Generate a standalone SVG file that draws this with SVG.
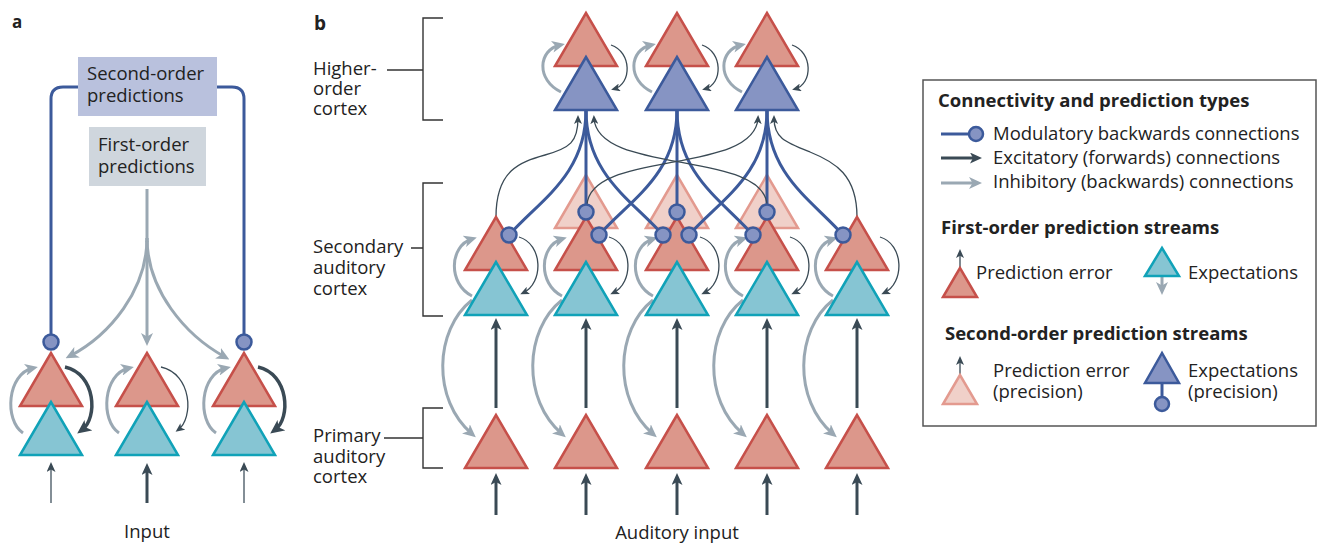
<svg xmlns="http://www.w3.org/2000/svg" xmlns:xlink="http://www.w3.org/1999/xlink" width="1319" height="545" viewBox="0 0 1319 545">
<defs>
<style>
.red{fill:#dc978b;stroke:#c6504a;stroke-width:2.5}
.cyan{fill:#86c5d3;stroke:#10a2b8;stroke-width:2.5}
.blue{fill:#8694c3;stroke:#3c5a9b;stroke-width:2.5}
.pink{fill:#f0d0c9;stroke:#e39a8f;stroke-width:2.5}
.mod{fill:none;stroke:#3c5a9b;stroke-width:3}
.dot{fill:#8694c3;stroke:#3c5a9b;stroke-width:2.5}
.inh{fill:none;stroke:#9aa8b3;stroke-width:3;marker-end:url(#ag)}
.exc{fill:none;stroke:#3a4a55;stroke-width:1.3;marker-end:url(#ad)}
.fwd{fill:none;stroke:#3a4a55;stroke-width:3;marker-end:url(#af)}
.thk{fill:none;stroke:#3a4a55;stroke-width:3.5;marker-end:url(#ak)}
.inp{fill:none;stroke:#5a6973;stroke-width:1.5;marker-end:url(#ai)}
.brk{fill:none;stroke:#333;stroke-width:1.4}
.t{font-family:"Open Sans","Liberation Sans",sans-serif;font-size:18.5px;fill:#222}
.b{font-weight:bold}
</style>
<polygon id="tri" points="0,0 -31,53 31,53"/>
<marker id="ag" markerUnits="userSpaceOnUse" viewBox="0 0 13 12" markerWidth="13" markerHeight="12" refX="8" refY="6" orient="auto"><path d="M0,0 L13,6 L0,12 L3.5,6 z" fill="#9aa8b3"/></marker>
<marker id="ad" markerUnits="userSpaceOnUse" viewBox="0 0 9 8" markerWidth="9" markerHeight="8" refX="6" refY="4" orient="auto"><path d="M0,0 L9,4 L0,8 L2.2,4 z" fill="#3a4a55"/></marker>
<marker id="af" markerUnits="userSpaceOnUse" viewBox="0 0 12 11" markerWidth="12" markerHeight="11" refX="7" refY="5.5" orient="auto"><path d="M0,0 L12,5.5 L0,11 L3,5.5 z" fill="#3a4a55"/></marker>
<marker id="ak" markerUnits="userSpaceOnUse" viewBox="0 0 14 13" markerWidth="14" markerHeight="13" refX="8" refY="6.5" orient="auto"><path d="M0,0 L14,6.5 L0,13 L3.5,6.5 z" fill="#3a4a55"/></marker>
<marker id="ai" markerUnits="userSpaceOnUse" viewBox="0 0 10 9" markerWidth="10" markerHeight="9" refX="6" refY="4.5" orient="auto"><path d="M0,0 L10,4.5 L0,9 L2.5,4.5 z" fill="#3a4a55"/></marker>
</defs>
<rect width="1319" height="545" fill="#fff"/>

<!-- panel labels -->
<text class="t b" x="12" y="28" style="font-size:17px">a</text>
<text class="t b" x="314" y="30" style="font-size:19px">b</text>

<!-- ============ PANEL A ============ -->
<g id="a-second-box">
<rect x="78" y="57" width="139" height="59" fill="#b9c1dd"/>
<text class="t" x="87" y="80">Second-order<tspan x="87" dy="22">predictions</tspan></text>
</g>
<g id="a-first-box">
<rect x="89" y="127" width="117" height="59" fill="#cfd6dd"/>
<text class="t" x="98" y="151">First-order<tspan x="98" dy="22">predictions</tspan></text>
</g>

<g id="a-connectors">
<path class="mod" d="M78,87 H63 Q51,87 51,99 V335"/>
<path class="mod" d="M217,87 H232 Q244,87 244,99 V335"/>
<path d="M147,189 V242" fill="none" stroke="#9aa8b3" stroke-width="3"/>
<path class="inh" d="M147,241 V341"/>
<path class="inh" d="M147,238 C147,290 110,335 70,356"/>
<path class="inh" d="M147,238 C147,290 185,335 225,357"/>
<path class="inh" d="M23,433 C4,420 7,374 33,368"/>
<path class="inh" d="M119,433 C100,420 103,374 129,368"/>
<path class="inh" d="M216,433 C197,420 200,374 226,368"/>
<path class="thk" d="M65,367 C96,374 98,418 82,430"/>
<path class="exc" d="M161,367 C192,374 194,418 178,430"/>
<path class="thk" d="M258,367 C289,374 291,418 275,430"/>
<path class="inp" d="M51,503 V466"/>
<path class="fwd" d="M147,503 V468"/>
<path class="inp" d="M244,503 V466"/>
</g>

<g id="a-col1">
<use xlink:href="#tri" x="51" y="353" class="red"/>
<use xlink:href="#tri" x="51" y="402" class="cyan"/>
</g>
<g id="a-col2">
<use xlink:href="#tri" x="147" y="353" class="red"/>
<use xlink:href="#tri" x="147" y="402" class="cyan"/>
</g>
<g id="a-col3">
<use xlink:href="#tri" x="244" y="353" class="red"/>
<use xlink:href="#tri" x="244" y="402" class="cyan"/>
</g>
<g id="a-dots">
<circle class="dot" cx="51" cy="342" r="7.5"/>
<circle class="dot" cx="244" cy="342" r="7.5"/>
</g>
<text class="t" x="147" y="538" text-anchor="middle">Input</text>

<!-- ============ PANEL B ============ -->
<g id="b-labels">
<path class="brk" d="M443,18 H423 V120 H443 M387,70 H423"/>
<path class="brk" d="M443,183 H423 V316 H443 M411,248 H423"/>
<path class="brk" d="M443,408 H423 V468 H443 M384,438 H423"/>
<text class="t" x="313" y="75">Higher-<tspan x="313" dy="20">order</tspan><tspan x="313" dy="20">cortex</tspan></text>
<text class="t" x="313" y="253">Secondary<tspan x="313" dy="21">auditory</tspan><tspan x="313" dy="21">cortex</tspan></text>
<text class="t" x="313" y="442">Primary<tspan x="313" dy="20.5">auditory</tspan><tspan x="313" dy="20.5">cortex</tspan></text>
<text class="t" x="677" y="539" text-anchor="middle">Auditory input</text>
</g>

<g id="sec-pe-prec-2"><use xlink:href="#tri" x="586" y="175" class="pink"/></g>
<g id="sec-pe-prec-3"><use xlink:href="#tri" x="677" y="175" class="pink"/></g>
<g id="sec-pe-prec-4"><use xlink:href="#tri" x="767" y="175" class="pink"/></g>

<g id="b-connectors">
<!-- modulatory -->
<path class="mod" d="M586,110 C586,175 540,200 509,235"/>
<path class="mod" d="M586,110 V212"/>
<path class="mod" d="M586,110 C586,175 632,200 663,235"/>
<path class="mod" d="M677,110 C677,175 630,200 599,235"/>
<path class="mod" d="M677,110 V212"/>
<path class="mod" d="M677,110 C677,175 722,200 753,235"/>
<path class="mod" d="M767,110 C767,175 720,200 689,235"/>
<path class="mod" d="M767,110 V212"/>
<path class="mod" d="M767,110 C767,175 812,200 843,235"/>
<!-- forward excitatory to higher -->
<path class="exc" d="M496,217 C496,170 520,162 545,155 C570,148 578,142 578,118"/>
<path class="exc" d="M587,205 C590,150 755,175 758,118"/>
<path class="exc" d="M767,205 C764,150 597,175 594,118"/>
<path class="exc" d="M857,217 C857,175 835,162 810,152 C785,142 774,138 774,118"/>
<!-- higher loops -->
<path class="inh" d="M561,92 C536,80 538,50 560,45"/>
<path class="inh" d="M652,92 C627,80 629,50 651,45"/>
<path class="inh" d="M742,92 C717,80 719,50 741,45"/>
<path class="exc" d="M611,45 C632,52 632,84 614,89"/>
<path class="exc" d="M702,45 C723,52 723,84 705,89"/>
<path class="exc" d="M792,45 C813,52 813,84 795,89"/>
<!-- secondary loops -->
<path class="inh" d="M472,296 C448,284 449,246 472,239"/>
<path class="inh" d="M562,296 C538,284 539,246 562,239"/>
<path class="inh" d="M653,296 C629,284 630,246 653,239"/>
<path class="inh" d="M743,296 C719,284 720,246 743,239"/>
<path class="inh" d="M833,296 C809,284 810,246 833,239"/>
<path class="exc" d="M519,237 C543,244 544,283 523,293"/>
<path class="exc" d="M609,237 C633,244 634,283 613,293"/>
<path class="exc" d="M700,237 C724,244 725,283 704,293"/>
<path class="exc" d="M790,237 C814,244 815,283 794,293"/>
<path class="exc" d="M880,237 C904,244 905,283 884,293"/>
<!-- inhibitory secondary to primary -->
<path class="inh" d="M472,300 C434,330 432,400 472,434"/>
<path class="inh" d="M562,300 C524,330 522,400 562,434"/>
<path class="inh" d="M653,300 C615,330 613,400 653,434"/>
<path class="inh" d="M743,300 C705,330 703,400 743,434"/>
<path class="inh" d="M833,300 C795,330 793,400 833,434"/>
<!-- forward primary to secondary -->
<path class="fwd" d="M496,408 V323"/>
<path class="fwd" d="M586,408 V323"/>
<path class="fwd" d="M677,408 V323"/>
<path class="fwd" d="M767,408 V323"/>
<path class="fwd" d="M857,408 V323"/>
<!-- auditory input -->
<path class="fwd" d="M496,515 V478"/>
<path class="fwd" d="M586,515 V478"/>
<path class="fwd" d="M677,515 V478"/>
<path class="fwd" d="M767,515 V478"/>
<path class="fwd" d="M857,515 V478"/>
</g>

<g id="hi-1"><use xlink:href="#tri" x="586" y="13" class="red"/><use xlink:href="#tri" x="586" y="57" class="blue"/></g>
<g id="hi-2"><use xlink:href="#tri" x="677" y="13" class="red"/><use xlink:href="#tri" x="677" y="57" class="blue"/></g>
<g id="hi-3"><use xlink:href="#tri" x="767" y="13" class="red"/><use xlink:href="#tri" x="767" y="57" class="blue"/></g>

<g id="sec-1"><use xlink:href="#tri" x="496" y="217" class="red"/><use xlink:href="#tri" x="496" y="262" class="cyan"/></g>
<g id="sec-2"><use xlink:href="#tri" x="586" y="217" class="red"/><use xlink:href="#tri" x="586" y="262" class="cyan"/></g>
<g id="sec-3"><use xlink:href="#tri" x="677" y="217" class="red"/><use xlink:href="#tri" x="677" y="262" class="cyan"/></g>
<g id="sec-4"><use xlink:href="#tri" x="767" y="217" class="red"/><use xlink:href="#tri" x="767" y="262" class="cyan"/></g>
<g id="sec-5"><use xlink:href="#tri" x="857" y="217" class="red"/><use xlink:href="#tri" x="857" y="262" class="cyan"/></g>

<g id="pri-1"><use xlink:href="#tri" x="496" y="415" class="red"/></g>
<g id="pri-2"><use xlink:href="#tri" x="586" y="415" class="red"/></g>
<g id="pri-3"><use xlink:href="#tri" x="677" y="415" class="red"/></g>
<g id="pri-4"><use xlink:href="#tri" x="767" y="415" class="red"/></g>
<g id="pri-5"><use xlink:href="#tri" x="857" y="415" class="red"/></g>

<g id="b-dots">
<circle class="dot" cx="586" cy="212" r="7.5"/>
<circle class="dot" cx="677" cy="212" r="7.5"/>
<circle class="dot" cx="767" cy="212" r="7.5"/>
<circle class="dot" cx="509" cy="235" r="7.5"/>
<circle class="dot" cx="599" cy="235" r="7.5"/>
<circle class="dot" cx="663" cy="235" r="7.5"/>
<circle class="dot" cx="689" cy="235" r="7.5"/>
<circle class="dot" cx="753" cy="235" r="7.5"/>
<circle class="dot" cx="843" cy="235" r="7.5"/>
</g>

<!-- ============ LEGEND ============ -->
<g id="legend">
<rect x="923" y="80" width="393" height="346" fill="#fff" stroke="#555" stroke-width="1.5"/>
<text class="t b" x="938" y="107">Connectivity and prediction types</text>
<path class="mod" d="M941,134 H972"/>
<circle class="dot" cx="976" cy="134" r="7"/>
<text class="t" x="993" y="140">Modulatory backwards connections</text>
<path class="fwd" d="M941,158 H977"/>
<text class="t" x="993" y="164">Excitatory (forwards) connections</text>
<path class="inh" d="M941,183 H977"/>
<text class="t" x="993" y="188">Inhibitory (backwards) connections</text>
<text class="t b" x="941" y="234">First-order prediction streams</text>
<path class="exc" d="M960,268 V252"/>
<polygon class="red" points="960,268 943,297 977,297"/>
<text class="t" x="976" y="279">Prediction error</text>
<path class="inh" d="M1162,276 V290"/>
<polygon class="cyan" points="1162,248 1145,276 1179,276"/>
<text class="t" x="1188" y="279">Expectations</text>
<text class="t b" x="945" y="340">Second-order prediction streams</text>
<path class="exc" d="M960,375 V359"/>
<polygon class="pink" points="960,375 943,404 977,404"/>
<text class="t" x="993" y="377">Prediction error<tspan x="993" dy="21">(precision)</tspan></text>
<path class="mod" d="M1162,383 V398"/>
<polygon class="blue" points="1162,353 1145,383 1179,383"/>
<circle class="dot" cx="1162" cy="404" r="7"/>
<text class="t" x="1188" y="377">Expectations<tspan x="1188" dy="21">(precision)</tspan></text>
</g>
</svg>
